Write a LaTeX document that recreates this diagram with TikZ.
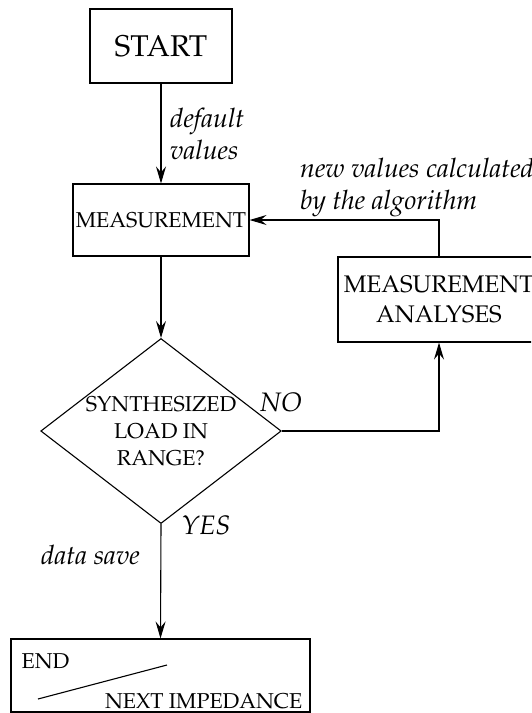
\documentclass[tikz,border=0pt]{standalone}
\usepackage[T1]{fontenc}
\usepackage{mathpazo}
\usetikzlibrary{shapes.geometric,arrows.meta}
\tikzset{
  box/.style={draw, line width=1.1pt, rectangle, inner sep=0pt},
  dia/.style={draw, line width=1.1pt, diamond, inner sep=0pt, aspect=1.3},
  conn/.style={line width=1.1pt, -{Stealth[length=17pt,width=10pt,inset=6pt]}},
  lab/.style={inner sep=0pt, font=\fontsize{26.7}{32}\selectfont\itshape, align=left},
  bigtxt/.style={font=\fontsize{30}{36}\selectfont},
  midtxt/.style={font=\fontsize{21.5}{27}\selectfont, align=center},
  anatxt/.style={font=\fontsize{24}{30.5}\selectfont, align=center},
}
\begin{document}
\begin{tikzpicture}[x=1pt,y=-1pt]
\useasboundingbox (0,0) rectangle (531,713);
\begin{scope}
\clip (0,0) rectangle (531,713);
\node[box, bigtxt, minimum width=142pt, minimum height=74pt] (start) at (161,46) {START};
\node[box, midtxt, minimum width=176pt, minimum height=72pt] (meas) at (161,220) {MEASUREMENT};
\node[dia, midtxt, minimum width=239pt, minimum height=183pt] (dec) at (161,431) {SYNTHESIZED\\LOAD IN\\RANGE?};
\node[box, anatxt, minimum width=202pt, minimum height=85pt] (ana) at (439,299.5) {MEASUREMENT\\ANALYSES};
\node[box, minimum width=299pt, minimum height=73pt] (end) at (160.5,675.5) {};
\node[anchor=west, inner sep=0pt, font=\fontsize{21.5}{27}\selectfont] (endt) at (21.5,661) {END};
\node[anchor=base east, inner sep=0pt, font=\fontsize{21.5}{27}\selectfont] (nextt) at (302.5,708.5) {NEXT IMPEDANCE};
\coordinate (s1) at (38,699);
\coordinate (s2) at (167,665);
\draw[line width=1.1pt] (s1) -- (s2);

\draw[conn] (start.south) -- (meas.north);
\draw[conn] (meas.south) -- (dec.north);
\draw[conn] (dec.east) -| (ana.south);
\draw[conn] (ana.north) |- (meas.east);
\draw[conn] (dec.south) -- (end.north);

\node[lab, anchor=west] (l1) at (170,134) {default\\values};
\node[lab, anchor=west] (l2) at (300,188) {new values calculated\\by the algorithm};
\node[lab] (no) at (281,402) {NO};
\node[lab] (yes) at (206,525) {YES};
\node[lab, anchor=west] (ds) at (41,555) {data save};
\end{scope}
\end{tikzpicture}
\end{document}
